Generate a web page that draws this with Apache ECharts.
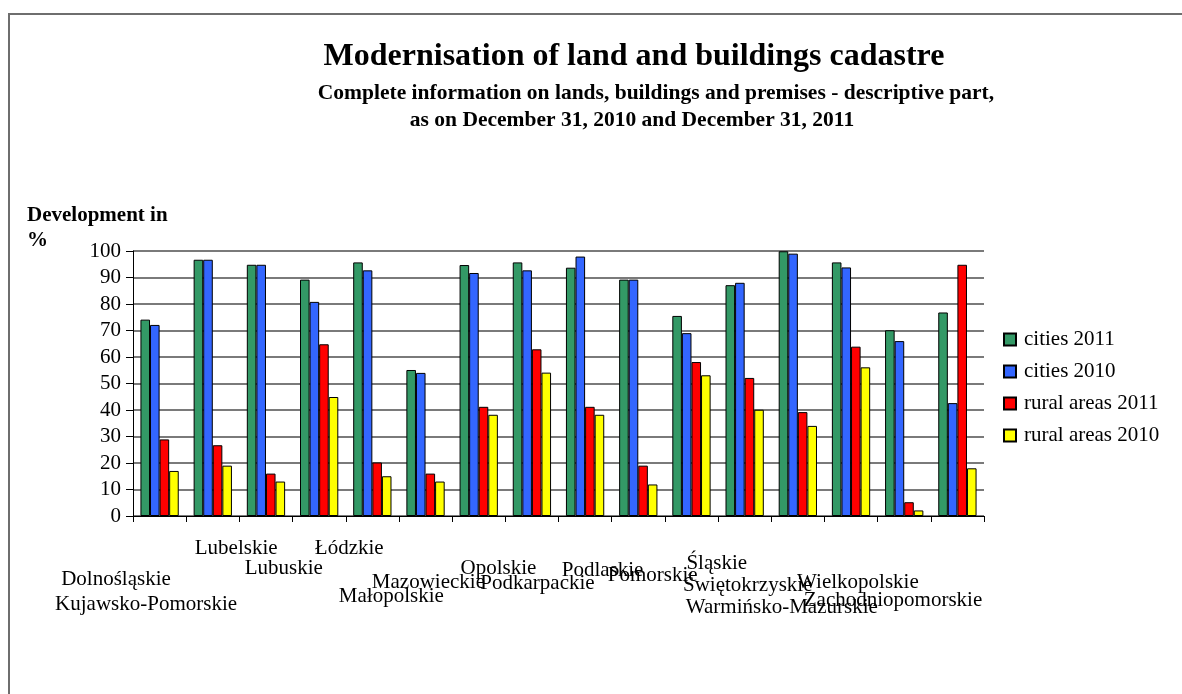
<!DOCTYPE html>
<html>
<head>
<meta charset="utf-8">
<script src="https://cdn.jsdelivr.net/npm/echarts@6/dist/echarts.min.js"></script>
<style>
  html, body { margin: 0; padding: 0; background: #fff; }
  #frame { position: absolute; left: 8px; top: 13px; width: 1174px; height: 681px;
           border-left: 2px solid #6e6e6e; border-top: 2px solid #6e6e6e; box-sizing: border-box; }
  #chart { position: absolute; left: 0; top: 0; width: 1182px; height: 694px; }
</style>
</head>
<body>
<div id="frame"></div>
<div id="chart"></div>
<script>
const categories = ['Dolnośląskie', 'Kujawsko-Pomorskie', 'Lubelskie', 'Lubuskie', 'Łódzkie',
  'Małopolskie', 'Mazowieckie', 'Opolskie', 'Podkarpackie', 'Podlaskie', 'Pomorskie',
  'Śląskie', 'Świętokrzyskie', 'Warmińsko-Mazurskie', 'Wielkopolskie', 'Zachodniopomorskie'];
const seriesNames = ['cities 2011', 'cities 2010', 'rural areas 2011', 'rural areas 2010'];
const cities2011 = [74.1, 96.7, 94.8, 89.2, 95.7, 55.1, 94.7, 95.7, 93.7, 89.2, 75.5, 87.1, 99.9, 95.7, 70.1, 76.8];
const cities2010 = [72.1, 96.7, 94.8, 80.8, 92.7, 54.0, 91.7, 92.7, 97.9, 89.2, 69.0, 88.0, 99.0, 93.8, 66.0, 42.6];
const rural2011 = [28.9, 26.7, 16.0, 64.8, 20.2, 16.0, 41.2, 62.9, 41.2, 19.0, 58.1, 52.1, 39.2, 63.9, 5.2, 94.8];
const rural2010 = [17.0, 19.0, 13.0, 44.9, 15.0, 13.0, 38.2, 54.1, 38.2, 11.9, 53.1, 40.1, 34.0, 56.1, 2.1, 18.0];
const yTicks = { min: 0, max: 100, interval: 10 };

// layout of the staggered category labels (horizontal / vertical offsets in px)
const labelDx = [-43.6, -66.7, -29.8, -35.4, -23.1, -34.2, -50.3, -33.4, -47.6, -35.7, -38.8, -27.9, -50.1, -69.2, -46.3, -64.4];
const labelDy = [62, 87, 31, 51, 31, 79, 65, 51, 66, 53, 58, 46, 68, 90, 65, 83];

const FONT = 'Liberation Serif';
const FS = 21;
const colors = ['#339966', '#3366FF', '#FF0000', '#FFFF00'];
const seriesData = [cities2011, cities2010, rural2011, rural2010];

const rich = {};
categories.forEach((c, i) => {
  rich['l' + i] = {
    fontFamily: FONT, fontSize: FS, color: '#000', lineHeight: FS,
    padding: [Math.max(0, 2 * (labelDy[i] - 9)), Math.max(0, -2 * labelDx[i]), 0, Math.max(0, 2 * labelDx[i])]
  };
});

const chart = echarts.init(document.getElementById('chart'), null, { renderer: 'canvas' });
chart.setOption({
  backgroundColor: 'transparent',
  animation: false,
  color: colors,
  title: [
    { text: 'Modernisation of land and buildings cadastre', left: 629, top: 36, textAlign: 'center',
      textStyle: { fontFamily: FONT, fontSize: 32, fontWeight: 'bold', color: '#000' } },
    { text: 'Complete information on lands, buildings and premises - descriptive part,', left: 651, top: 77, textAlign: 'center',
      textStyle: { fontFamily: FONT, fontSize: 21.5, fontWeight: 'bold', color: '#000' } },
    { text: 'as on December 31, 2010 and December 31, 2011', left: 627, top: 104, textAlign: 'center',
      textStyle: { fontFamily: FONT, fontSize: 21.5, fontWeight: 'bold', color: '#000' } },
    { text: 'Development in\n%', left: 22, top: 198,
      textStyle: { fontFamily: FONT, fontSize: 21, fontWeight: 'bold', color: '#000', lineHeight: 25 } }
  ],
  legend: {
    orient: 'vertical', left: 1003, top: 329, padding: 0, itemWidth: 12, itemHeight: 12, itemGap: 11,
    icon: 'rect', data: seriesNames,
    textStyle: { fontFamily: FONT, fontSize: FS, color: '#000', padding: [0, 0, 0, 3] }
  },
  grid: { left: 133, right: 198, top: 251, bottom: 178, containLabel: false },
  xAxis: {
    type: 'category', data: categories, boundaryGap: true,
    axisLine: { show: true, lineStyle: { color: '#000', width: 1 } },
    axisTick: { show: true, length: 6, alignWithLabel: false, interval: 0, lineStyle: { color: '#000' } },
    axisLabel: {
      interval: 0, margin: 0, hideOverlap: false,
      formatter: (v, i) => '{l' + i + '|' + v + '}',
      rich: rich
    },
    splitLine: { show: false }
  },
  yAxis: {
    type: 'value', min: yTicks.min, max: yTicks.max, interval: yTicks.interval,
    axisLine: { show: true, lineStyle: { color: '#000', width: 1 } },
    axisTick: { show: true, length: 7, lineStyle: { color: '#000' } },
    axisLabel: { margin: 12, fontFamily: FONT, fontSize: FS, color: '#000' },
    splitLine: { show: true, lineStyle: { color: '#7a7a7a', width: 2 } }
  },
  series: seriesNames.map((name, k) => ({
    name: name, type: 'bar', data: seriesData[k],
    barGap: '0%', barCategoryGap: '28%',
    itemStyle: { color: colors[k], borderColor: '#000', borderWidth: 1 }
  }))
});
</script>
</body>
</html>
